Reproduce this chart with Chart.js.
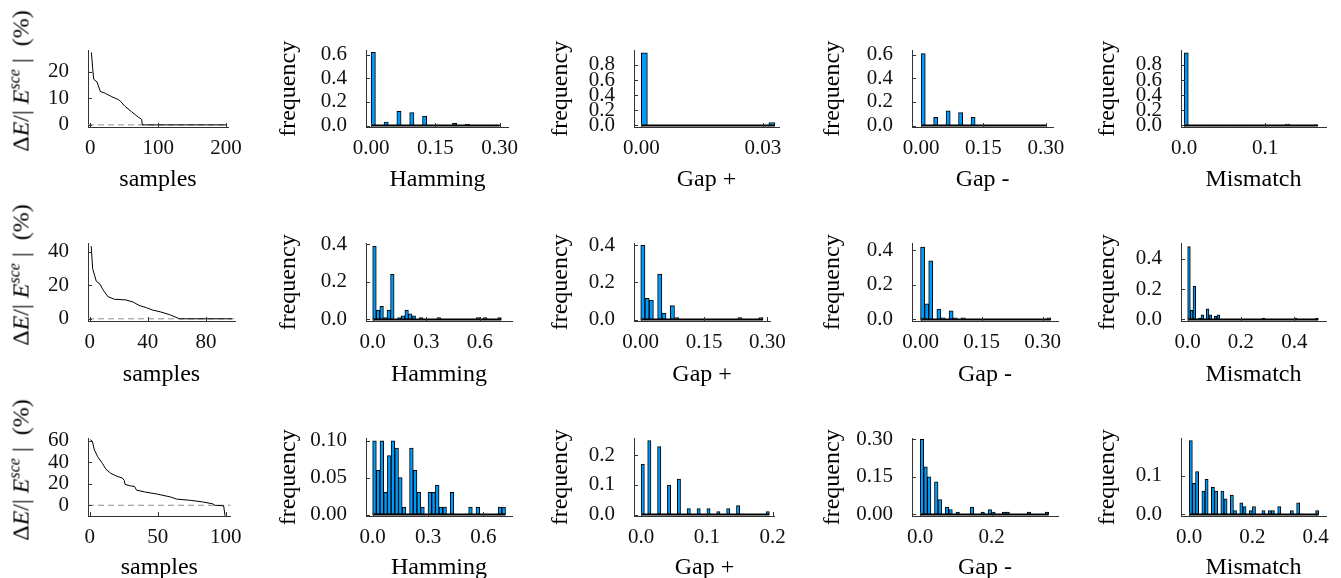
<!DOCTYPE html>
<html lang="en">
<head>
<meta charset="UTF-8">
<title>Energy error and distance histograms</title>
<script src="https://cdn.jsdelivr.net/npm/chart.js"></script>
<style>
    body { margin: 0; background: #fff; overflow: hidden; }
    #fig { position: relative; width: 1341px; height: 578px; }
    #fig canvas { position: absolute; }
    .ylab {
        position: absolute;
        font-family: "Liberation Serif", serif;
        font-size: 24px;
        white-space: nowrap;
        color: #000;
        transform: translate(-50%, -50%) rotate(-90deg);
    }
    .ylab sup { font-size: 16px; }
</style>
</head>
<body>
<div id="fig"></div>

<script>
    // ---- left column: sorted relative energy error per sample ----
    const samplesR = [
        [1.5, 3.4, 4.9, 9.8, 14.6, 22, 31.7, 41.5, 44, 51, 61, 70.7, 75.6, 76.6, 200],
        [1, 2, 4.5, 7, 9, 12.5, 17, 25, 30, 34, 39, 43, 48.5, 55, 61, 62, 98],
        [0.5, 2, 3.5, 6, 9.5, 12, 15.5, 20, 24, 25.5, 26, 30, 33, 34.5, 40.5, 50, 59.5, 64, 74, 83, 90.5, 92, 98.5, 99.5]
    ];
    const deltaER = [
        [27.3, 21.3, 17.2, 16.2, 12.6, 11.9, 10.6, 9.5, 9.0, 7.0, 4.9, 2.9, 2.1, 0, 0],
        [43.5, 30, 22.5, 20.8, 17.5, 13.3, 11.7, 11.3, 10, 8, 6.7, 5.3, 4.2, 2.5, 0.3, 0, 0],
        [61, 59.5, 51.5, 45, 38.7, 33.5, 29.7, 27, 25.3, 23, 19.4, 18, 17.5, 14, 12.4, 10.3, 7.7, 5.7, 4.6, 3.1, 1.3, 0, -0.5, -9.8]
    ];
    const samplesXRange = [[-3.5, 203], [-1.2, 100], [-1.2, 103.6]];
    const deltaEYRange = [[-0.8, 28], [-1.3, 45], [-10, 62]];
    const samplesXLabels = [['0', '100', '200'], ['0', '40', '80'], ['0', '50', '100']];
    const deltaEYLabels = [['0', '10', '20'], ['0', '20', '40'], ['0', '20', '40', '60']];

    // ---- histograms: frequency per bin, bins start at 0 ----
    const hammingBin = [0.01, 0.02, 0.02];
    const hammingFreq = [
        [0.62, 0, 0, 0.03, 0, 0, 0.12, 0, 0, 0.11, 0, 0, 0.08, 0, 0, 0.005, 0, 0, 0, 0.02, 0, 0, 0.01, 0, 0, 0, 0, 0, 0, 0.005],
        [0.39, 0.05, 0.07, 0.01, 0.05, 0.24, 0, 0.01, 0.02, 0.05, 0.03, 0.02, 0, 0.01, 0, 0, 0, 0, 0.01, 0, 0, 0, 0, 0, 0, 0, 0, 0, 0, 0.01, 0, 0.01, 0, 0, 0, 0.01],
        [0.10, 0.06, 0.10, 0.03, 0.08, 0.10, 0.09, 0.05, 0.01, 0, 0.09, 0.06, 0.03, 0.01, 0, 0.03, 0.03, 0.04, 0.01, 0.01, 0, 0.03, 0, 0, 0, 0, 0.01, 0, 0.01, 0, 0, 0, 0, 0, 0.01, 0.01]
    ];
    const gapPlusBin = [0.0015, 0.01, 0.005];
    const gapPlusFreq = [
        [0.96, 0, 0, 0, 0, 0, 0, 0, 0, 0, 0, 0, 0, 0, 0, 0, 0, 0, 0, 0, 0, 0.04],
        [0.40, 0.115, 0.105, 0, 0.245, 0.035, 0, 0.075, 0.01, 0, 0, 0, 0, 0, 0, 0, 0, 0, 0, 0, 0, 0, 0, 0.01, 0, 0, 0, 0, 0.01],
        [0.17, 0, 0.25, 0, 0, 0.23, 0, 0, 0.10, 0, 0, 0.12, 0, 0, 0.02, 0, 0, 0.02, 0, 0, 0.02, 0, 0, 0.01, 0, 0, 0.02, 0, 0, 0.03, 0, 0, 0, 0, 0, 0, 0, 0, 0.01]
    ];
    const gapMinusBin = [0.01, 0.01, 0.01];
    const gapMinusFreq = [
        [0.61, 0, 0, 0.07, 0, 0, 0.125, 0, 0, 0.11, 0, 0, 0.07, 0, 0, 0, 0.005, 0, 0, 0, 0, 0, 0, 0, 0, 0, 0, 0, 0, 0.005],
        [0.42, 0.09, 0.34, 0, 0.06, 0.01, 0, 0.05, 0.01, 0, 0.01, 0, 0, 0, 0, 0, 0, 0, 0, 0, 0, 0, 0, 0, 0, 0, 0, 0, 0, 0, 0, 0.01],
        [0.30, 0.19, 0.15, 0, 0.13, 0.06, 0, 0.03, 0.02, 0, 0.01, 0, 0, 0, 0.03, 0, 0, 0.01, 0, 0.02, 0.01, 0, 0, 0.01, 0.01, 0, 0, 0, 0, 0, 0.01, 0, 0, 0, 0, 0.01]
    ];
    const mismatchBin = [0.005, 0.01, 0.01];
    const mismatchFreq = [
        [0.96, 0, 0, 0, 0, 0, 0, 0.005, 0, 0, 0, 0, 0, 0.005, 0, 0, 0, 0, 0, 0, 0, 0, 0, 0, 0, 0.02, 0, 0, 0, 0, 0, 0, 0.01],
        [0.48, 0.06, 0.22, 0, 0.01, 0.03, 0, 0.07, 0.03, 0, 0.02, 0.03, 0, 0, 0, 0, 0, 0, 0, 0, 0, 0, 0, 0, 0, 0, 0, 0, 0.01, 0, 0, 0, 0, 0, 0, 0, 0, 0, 0, 0, 0.01, 0, 0, 0, 0, 0, 0, 0, 0.01],
        [0.19, 0.08, 0.11, 0, 0.06, 0.09, 0, 0.07, 0.06, 0, 0.06, 0.04, 0, 0.05, 0.01, 0, 0.03, 0.02, 0, 0.01, 0.02, 0, 0, 0.01, 0, 0.01, 0.01, 0, 0.02, 0, 0, 0, 0.01, 0, 0.03, 0, 0, 0, 0, 0, 0.01]
    ];

    const hammingXRange = [[-0.012, 0.322], [-0.0375, 0.78], [-0.036, 0.755]];
    const hammingYRange = [[-0.012, 0.635], [-0.008, 0.404], [-0.002, 0.103]];
    const gapPlusXRange = [[-0.0018, 0.034], [-0.016, 0.307], [-0.0108, 0.2034]];
    const gapPlusYRange = [[-0.02, 0.99], [-0.008, 0.41], [-0.005, 0.257]];
    const gapMinusXRange = [[-0.022, 0.318], [-0.021, 0.3375], [-0.023, 0.386]];
    const gapMinusYRange = [[-0.012, 0.635], [-0.009, 0.44], [-0.006, 0.303]];
    const mismatchXRange = [[-0.004, 0.175], [-0.025, 0.519], [-0.026, 0.433]];
    const mismatchYRange = [[-0.02, 0.99], [-0.01, 0.5], [-0.004, 0.195]];

    const hammingXLabels = [['0.00', '0.15', '0.30'], ['0.0', '0.3', '0.6'], ['0.0', '0.3', '0.6']];
    const hammingYLabels = [['0.0', '0.2', '0.4', '0.6'], ['0.0', '0.2', '0.4'], ['0.00', '0.05', '0.10']];
    const gapPlusXLabels = [['0.00', '0.03'], ['0.00', '0.15', '0.30'], ['0.0', '0.1', '0.2']];
    const gapPlusYLabels = [['0.0', '0.2', '0.4', '0.6', '0.8'], ['0.0', '0.2', '0.4'], ['0.0', '0.1', '0.2']];
    const gapMinusXLabels = [['0.00', '0.15', '0.30'], ['0.00', '0.15', '0.30'], ['0.0', '0.2']];
    const gapMinusYLabels = [['0.0', '0.2', '0.4', '0.6'], ['0.0', '0.2', '0.4'], ['0.00', '0.15', '0.30']];
    const mismatchXLabels = [['0.0', '0.1'], ['0.0', '0.2', '0.4'], ['0.0', '0.2', '0.4']];
    const mismatchYLabels = [['0.0', '0.2', '0.4', '0.6', '0.8'], ['0.0', '0.2', '0.4'], ['0.0', '0.1']];

    // ---- page layout (pixel boxes of the plot areas) ----
    const colLeft = [88, 366, 634, 912, 1181];
    const colRight = [235, 512, 779, 1058, 1326];
    const colTitleX = [20, 288, 560, 832, 1107];
    const rowTop = [35, 228, 423];
    const rowBottom = [127, 321, 516];
    const rowTitleY = [180, 375, 568];

    const tickFont = { family: 'Liberation Serif', size: 21 };
    const titleFont = { family: 'Liberation Serif', size: 24, lineHeight: 1.2 };
    const fig = document.getElementById('fig');

    // small tick marks pointing into the plot, like the original figure
    const inwardTicks = {
        id: 'inwardTicks',
        afterDraw(chart) {
            const { ctx, chartArea: a, scales: { x, y } } = chart;
            ctx.save();
            ctx.strokeStyle = '#333';
            ctx.lineWidth = 1;
            x.ticks.forEach(t => {
                const px = Math.round(x.getPixelForValue(t.value)) + 0.5;
                ctx.beginPath(); ctx.moveTo(px, a.bottom); ctx.lineTo(px, a.bottom - 4); ctx.stroke();
            });
            y.ticks.forEach(t => {
                const py = Math.round(y.getPixelForValue(t.value)) + 0.5;
                ctx.beginPath(); ctx.moveTo(a.left, py); ctx.lineTo(a.left + 4, py); ctx.stroke();
            });
            ctx.restore();
        }
    };

    function addPanel(r, c, type, datasets, xRange, yRange, xLabels, yLabels, xTitle, yTitle) {
        const left = colTitleX[c] - 16;
        const top = rowTop[r] - 16;
        const width = colRight[c] + 16 - left;
        const height = Math.round(rowTitleY[r] + 14.4) - top;
        const cv = document.createElement('canvas');
        cv.width = width; cv.height = height;
        cv.style.left = left + 'px'; cv.style.top = top + 'px';
        cv.style.width = width + 'px'; cv.style.height = height + 'px';
        fig.appendChild(cv);

        new Chart(cv, {
            type: type,
            data: { datasets: datasets },
            options: {
                responsive: false,
                animation: false,
                layout: { padding: { top: rowTop[r] - top, right: left + width - colRight[c], left: 0, bottom: 0 } },
                plugins: { legend: { display: false }, tooltip: { enabled: false } },
                scales: {
                    x: {
                        type: 'linear', min: xRange[0], max: xRange[1], offset: false,
                        afterBuildTicks: s => { s.ticks = xLabels.map(l => ({ value: parseFloat(l) })); },
                        afterFit: s => { s.height = top + height - rowBottom[r]; },
                        grid: { display: false, drawTicks: false },
                        border: { display: true, color: '#333', width: 1 },
                        ticks: { font: tickFont, color: '#111', padding: 9, maxRotation: 0, autoSkip: false,
                                 callback: (v, i) => xLabels[i] },
                        title: { display: true, text: xTitle, font: titleFont, color: '#000', padding: 0 }
                    },
                    y: {
                        type: 'linear', min: yRange[0], max: yRange[1],
                        afterBuildTicks: s => { s.ticks = yLabels.map(l => ({ value: parseFloat(l) })); },
                        afterFit: s => { s.width = colLeft[c] - left; },
                        grid: { display: false, drawTicks: false },
                        border: { display: true, color: '#333', width: 1 },
                        ticks: { font: tickFont, color: '#111', padding: 19, autoSkip: false,
                                 callback: (v, i) => yLabels[i] },
                        title: { display: yTitle !== '', text: yTitle, font: titleFont, color: '#000', padding: { top: 2, bottom: 0 } }
                    }
                }
            },
            plugins: [inwardTicks]
        });
    }

    function histSets(freq, bin) {
        return [
            {
                type: 'line',
                data: [{ x: 0, y: 0 }, { x: freq.length * bin, y: 0 }],
                borderColor: '#000', borderWidth: 2, pointRadius: 0
            },
            {
                type: 'bar',
                data: freq.map((f, i) => ({ x: (i + 0.5) * bin, y: f })),
                backgroundColor: '#009AFA', borderColor: '#000', borderWidth: 1,
                borderSkipped: false, barPercentage: 1, categoryPercentage: 1
            }
        ];
    }

    const histCols = [
        [hammingFreq, hammingBin, hammingXRange, hammingYRange, hammingXLabels, hammingYLabels, 'Hamming'],
        [gapPlusFreq, gapPlusBin, gapPlusXRange, gapPlusYRange, gapPlusXLabels, gapPlusYLabels, 'Gap +'],
        [gapMinusFreq, gapMinusBin, gapMinusXRange, gapMinusYRange, gapMinusXLabels, gapMinusYLabels, 'Gap -'],
        [mismatchFreq, mismatchBin, mismatchXRange, mismatchYRange, mismatchXLabels, mismatchYLabels, 'Mismatch']
    ];

    for (let r = 0; r < 3; r++) {
        const curve = samplesR[r].map((s, i) => ({ x: s, y: deltaER[r][i] }));
        addPanel(r, 0, 'scatter', [
            { data: curve, borderColor: '#000', borderWidth: 1, showLine: true, pointRadius: 0 },
            { data: [{ x: samplesXRange[r][0], y: 0 }, { x: samplesXRange[r][1], y: 0 }],
              borderColor: '#8c8c8c', borderWidth: 1, borderDash: [6, 4], showLine: true, pointRadius: 0 }
        ], samplesXRange[r], deltaEYRange[r], samplesXLabels[r], deltaEYLabels[r], 'samples', '');

        const lab = document.createElement('div');
        lab.className = 'ylab';
        lab.style.left = colTitleX[0] + 'px';
        lab.style.top = ((rowTop[r] + rowBottom[r]) / 2) + 'px';
        lab.innerHTML = 'Δ<i>E</i>/| <i>E</i><sup><i>sce</i></sup> | &nbsp;(%)';
        fig.appendChild(lab);

        histCols.forEach((h, k) => {
            addPanel(r, k + 1, 'bar', histSets(h[0][r], h[1][r]), h[2][r], h[3][r], h[4][r], h[5][r], h[6], 'frequency');
        });
    }
</script>

</body>
</html>
